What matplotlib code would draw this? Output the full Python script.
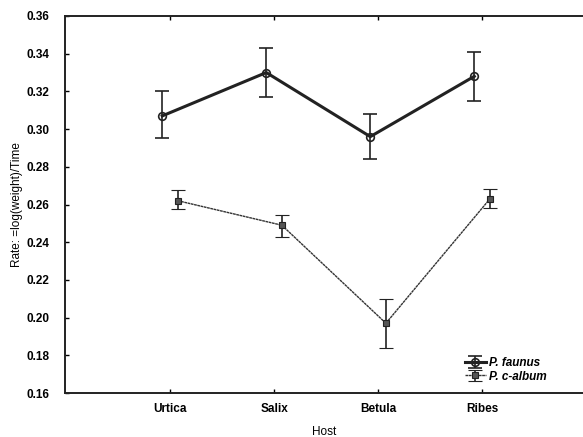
import numpy as np
import matplotlib.pyplot as plt
from matplotlib.ticker import MultipleLocator

plt.rcParams['font.family'] = ['Liberation Sans', 'DejaVu Sans']

# host plants on the x axis
hosts = ['Urtica', 'Salix', 'Betula', 'Ribes']

# growth rate means with upper / lower error limits
faunus_mean = [0.307, 0.330, 0.296, 0.328]
faunus_hi = [0.320, 0.343, 0.308, 0.341]
faunus_lo = [0.2955, 0.317, 0.284, 0.315]

calbum_mean = [0.262, 0.249, 0.197, 0.263]
calbum_hi = [0.2675, 0.2545, 0.210, 0.268]
calbum_lo = [0.2575, 0.243, 0.184, 0.258]

x = np.arange(len(hosts))
shift = 0.075

fig = plt.figure(figsize=(5.83, 4.37), dpi=100)
ax = fig.add_axes([65/583, 1 - 393/437, 518/583, 377/437])

f_err = [np.array(faunus_mean) - np.array(faunus_lo), np.array(faunus_hi) - np.array(faunus_mean)]
c_err = [np.array(calbum_mean) - np.array(calbum_lo), np.array(calbum_hi) - np.array(calbum_mean)]

ax.errorbar(x - shift, faunus_mean, yerr=f_err, color='#222222', lw=2.2,
            marker='o', ms=5.5, mfc='none', mec='#222222', mew=1.2,
            ecolor='#222222', elinewidth=1.2, capsize=5, capthick=1.2,
            label='P. faunus')
ax.errorbar(x + shift, calbum_mean, yerr=c_err, color='#333333', lw=1.0,
            ls=(0, (2, 0.4)), marker='s', ms=4.5, mfc='#555555', mec='#222222', mew=0.8,
            ecolor='#222222', elinewidth=1.2, capsize=5, capthick=1.2,
            label='P. c-album')

ax.set_xlim(-1.01, 3.97)
ax.set_ylim(0.16, 0.36)
ax.yaxis.set_major_locator(MultipleLocator(0.02))
ax.yaxis.set_major_formatter(plt.FormatStrFormatter('%.2f'))
ax.set_xticks(x)
ax.set_xticklabels(hosts)

for lbl in ax.get_xticklabels() + ax.get_yticklabels():
    lbl.set_fontweight('bold')
    lbl.set_fontsize(8.5)

ax.tick_params(direction='in', length=3, width=1, top=True, right=False)
ax.tick_params(axis='x', pad=7)
ax.tick_params(axis='y', pad=11)
ax.spines['right'].set_visible(False)
for s in ['left', 'bottom', 'top']:
    ax.spines[s].set_linewidth(1.4)
    ax.spines[s].set_color('#222222')

ax.set_xlabel('Host', fontsize=8.5, labelpad=8)
ax.set_ylabel('Rate: =log(weight)/Time', fontsize=8.5)
ax.yaxis.set_label_coords(-0.082, 0.5)

leg = ax.legend(loc='lower right', bbox_to_anchor=(0.94, 0.015), frameon=False,
                prop={'style': 'italic', 'weight': 'bold', 'size': 8.5},
                handlelength=1.8, handletextpad=0.3, labelspacing=0.15,
                borderaxespad=0)

fig.savefig('out.png', dpi=100)
